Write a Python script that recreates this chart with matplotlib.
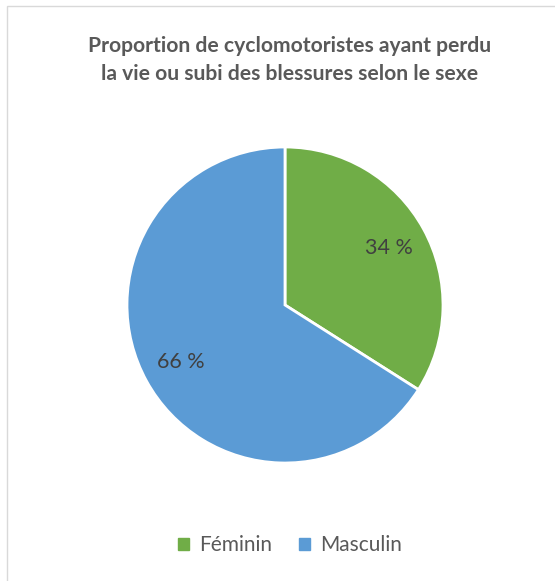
import matplotlib.pyplot as plt
import matplotlib.patches as mpatches

categories = ['Féminin', 'Masculin']
values = [34, 66]
colors = ['#70AD47', '#5B9BD5']

plt.rcParams['font.family'] = ['Lato', 'DejaVu Sans']

W, H = 555, 581
fig = plt.figure(figsize=(W / 100, H / 100), dpi=100)

# chart border (light gray, runs off right and bottom edges)
border = mpatches.Rectangle((6.5 / W, -0.01), 1.0, 1 - 6.5 / H + 0.01,
                            transform=fig.transFigure, fill=False,
                            edgecolor='#D9D9D9', linewidth=1)
fig.patches.append(border)

cx, cy, r = 285, 305, 158
ax = fig.add_axes([(cx - r) / W, (H - cy - r) / H, 2 * r / W, 2 * r / H])

wedges, texts, autotexts = ax.pie(
    values, colors=colors, startangle=90, counterclock=False,
    autopct=lambda p: f'{p:.0f} %', pctdistance=0.75,
    wedgeprops=dict(edgecolor='white', linewidth=2),
    textprops=dict(color='#404040', fontsize=15.5))
ax.set_xlim(-1, 1)
ax.set_ylim(-1, 1)
ax.set_aspect('equal')
ax.axis('off')

fig.text(290 / W, 1 - 60 / H,
         'Proportion de cyclomotoristes ayant perdu\nla vie ou subi des blessures selon le sexe',
         ha='center', va='center', fontsize=15.2, fontweight='bold',
         color='#595959', linespacing=1.55)

handles = [mpatches.Patch(color=c, label=l) for c, l in zip(colors, categories)]
fig.legend(handles=handles, loc='center', bbox_to_anchor=(290 / W, 1 - 545 / H),
           ncol=2, frameon=False, fontsize=15, handlelength=0.5, handleheight=0.5,
           handletextpad=0.5, columnspacing=1.3, labelcolor='#595959')

fig.savefig('out.png', dpi=100)
